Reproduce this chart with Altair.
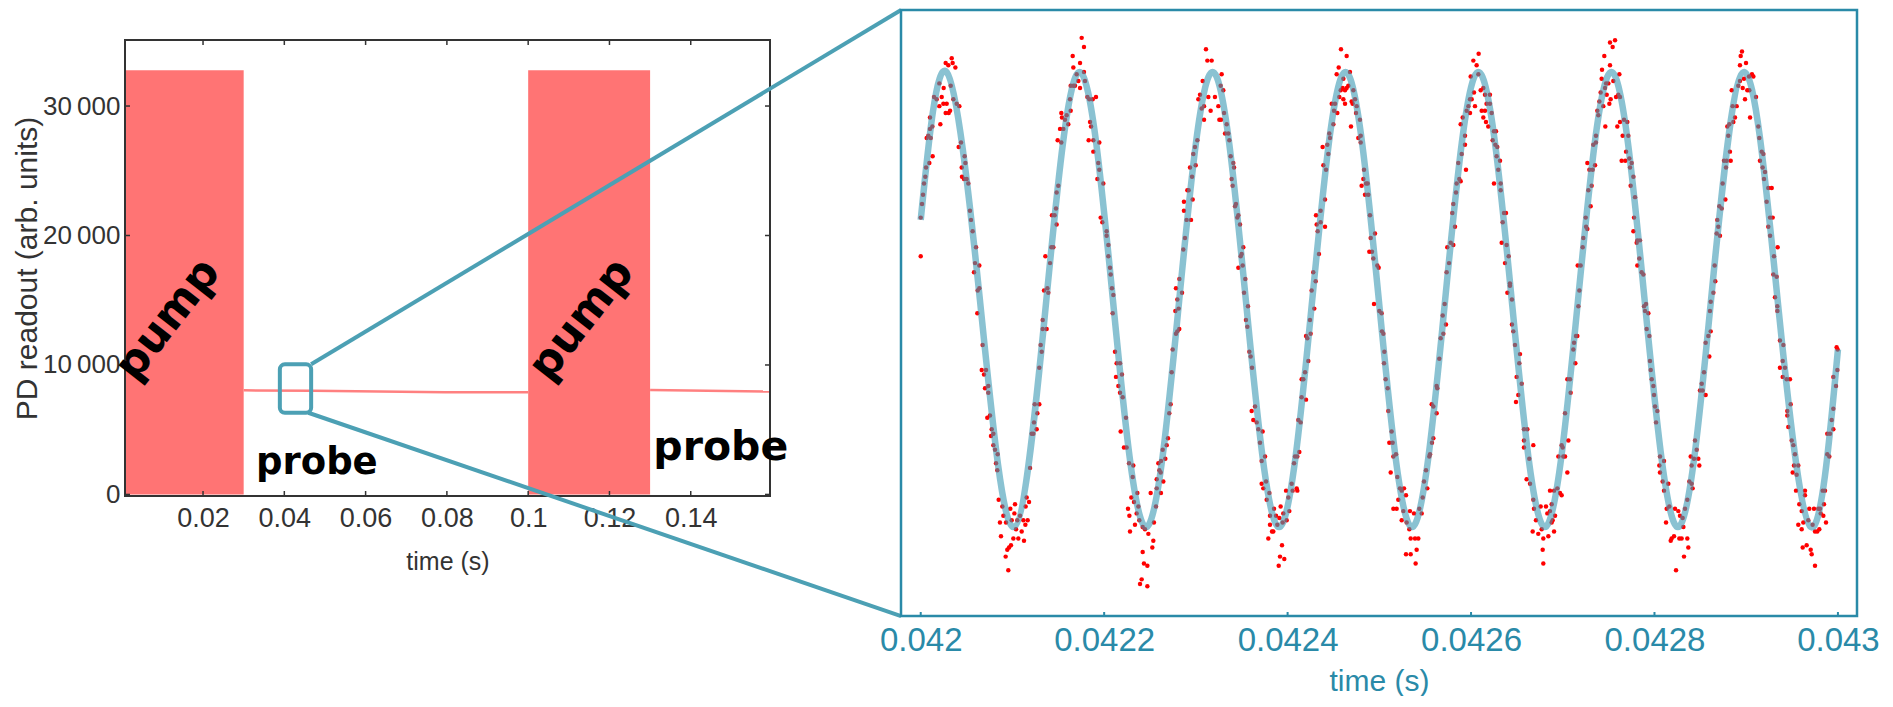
import altair as alt
import pandas as pd

# ---------------- left panel: full photodiode trace ----------------
pump_start = [0.0008, 0.100]
pump_end = [0.030, 0.130]
pump_level = [32768, 32768]

probe_t = [0.030, 0.047, 0.0795, 0.100, 0.130, 0.1595]
probe_v = [8040, 8000, 7890, 7890, 8070, 7950]
probe_seg = ["a", "a", "a", "a", "b", "b"]

left_xticks = [0.02, 0.04, 0.06, 0.08, 0.10, 0.12, 0.14]
left_yticks = [0, 10000, 20000, 30000]

pump_label_t = [0.0114, 0.1132]
pump_label_v = [13500, 13500]
probe_label_t = [0.0480, 0.1474]
probe_label_v = [2410, 3560]

zoom_box_t = [0.0389, 0.0466]
zoom_box_v = [6310, 10050]

# connector lines: zoom-box corner -> corner of the zoomed panel (left-panel units)
conn_t0 = [0.0466, 0.0459]
conn_v0 = [10050, 6310]
conn_t1 = [0.19175, 0.19175]
conn_v1 = [37420, -9390]

# ---------------- right panel: zoom 0.042 s .. 0.043 s ----------------
right_xticks = [0.042, 0.0422, 0.0424, 0.0426, 0.0428, 0.043]

# fitted sinusoid: (time offset from 0.042 s in microseconds, normalised readout)
curve_us = [0, 28.3, 64.5, 100.8, 137.0, 173.2, 209.5, 245.7, 281.9, 318.2, 354.4,
            390.7, 426.9, 463.1, 499.4, 535.6, 571.8, 608.0, 644.3, 680.5, 716.7,
            753.0, 789.2, 825.5, 861.7, 897.9, 934.2, 970.4, 1000]
curve_v = [0.35, 1, 0, -1, 0, 1, 0, -1, 0, 1, 0, -1, 0, 1, 0, -1, 0, 1, 0, -1, 0,
           1, 0, -1, 0, 1, 0, -1, -0.22]

# measured samples (microseconds from 0.042 s, normalised readout), per half cycle
peak1 = [(0.0,0.36),(0.0,0.19),(1.4,0.42),(2.5,0.46),(3.6,0.51),(5.0,0.54),(5.8,0.58),(6.5,0.71),(8.3,0.72),(9.4,0.60),(10.9,0.71),(10.1,0.75),(13.0,0.63),(12.7,0.76),(10.1,0.80),(14.5,0.89),(17.4,0.88),(20.3,0.85),(21.4,0.77),(22.9,0.89),(20.3,0.95),(25.0,0.93),(24.7,0.86),(28.3,0.86),(27.2,0.82),(30.5,0.82),(32.0,0.83),(27.2,1.04),(30.1,1.03),(33.8,1.06),(34.8,1.04),(37.8,1.02),(32.7,0.94),(35.6,0.88),(39.2,0.86),(42.1,0.85),(41.4,0.67),(43.9,0.69),(47.9,0.63),(48.7,0.60),(44.7,0.58),(45.0,0.54),(47.2,0.53),(50.1,0.53),(51.9,0.51),(53.7,0.39),(54.8,0.35),(56.6,0.30),(60.3,0.23),(63.9,0.15),(59.2,0.16),(58.1,0.12),(63.9,0.05),(62.1,0.04)]
trough1 = [(61.7,-0.06),(67.5,-0.20),(66.5,-0.31),(69.0,-0.33),(71.2,-0.31),(70.1,-0.39),(73.7,-0.38),(73.7,-0.41),(72.6,-0.52),(75.5,-0.51),(77.4,-0.57),(76.6,-0.60),(79.2,-0.59),(79.2,-0.64),(81.0,-0.66),(83.9,-0.68),(82.1,-0.72),(83.5,-0.75),(85.0,-0.88),(89.0,-0.91),(86.4,-0.98),(90.1,-0.95),(93.0,-0.98),(87.5,-1.04),(97.7,-0.92),(102.8,-0.90),(102.1,-0.94),(99.2,-0.97),(105.3,-0.97),(108.3,-0.95),(103.9,-1.01),(101.0,-1.05),(106.4,-1.05),(98.4,-1.08),(96.3,-1.09),(94.4,-1.10),(92.6,-1.13),(95.5,-1.19),(110.1,-1.02),(112.6,-1.06),(111.9,-0.97),(114.1,-0.99),(116.6,-0.97),(114.4,-0.91),(118.1,-0.89),(115.5,-0.87),(119.2,-0.74),(121.0,-0.59),(122.8,-0.59),(126.4,-0.57),(123.5,-0.54),(127.2,-0.50),(124.3,-0.46),(129.3,-0.46),(129.3,-0.30),(131.9,-0.23),(130.8,-0.20),(133.0,-0.13),(137.3,-0.13),(133.0,-0.09)]
peak2 = [(134.4,0.04),(138.1,0.05),(139.1,0.03),(135.9,0.19),(141.0,0.16),(142.4,0.23),(144.6,0.23),(148.2,0.33),(143.1,0.37),(146.0,0.37),(147.5,0.40),(148.2,0.47),(150.0,0.50),(149.3,0.70),(153.3,0.69),(151.9,0.75),(155.5,0.75),(154.0,0.80),(157.3,0.79),(153.3,0.82),(159.1,0.81),(160.9,0.77),(163.5,0.83),(162.8,0.88),(163.5,0.94),(166.4,0.94),(168.2,0.94),(165.7,1.07),(166.4,1.02),(170.0,0.99),(173.7,1.04),(175.5,1.15),(178.0,1.11),(178.0,1.00),(171.9,0.96),(173.7,0.93),(179.1,0.96),(181.7,0.89),(183.8,0.88),(187.5,0.88),(191.1,0.89),(184.6,0.78),(185.7,0.76),(183.1,0.70),(188.2,0.70),(194.7,0.69),(188.2,0.65),(193.6,0.60),(194.7,0.57),(192.6,0.53),(199.1,0.51),(196.2,0.36),(198.0,0.34),(202.7,0.30),(202.7,0.28),(204.6,0.24),(204.6,0.19),(206.4,0.14),(207.1,0.11),(210.0,0.02),(208.5,0.05)]
trough2 = [(209.3,-0.06),(211.8,-0.23),(213.6,-0.28),(217.3,-0.28),(212.9,-0.34),(219.4,-0.33),(215.5,-0.38),(217.3,-0.41),(220.2,-0.43),(223.8,-0.52),(218.0,-0.58),(221.6,-0.65),(224.5,-0.65),(227.1,-0.72),(231.8,-0.73),(231.1,-0.78),(236.2,-0.85),(229.6,-0.87),(232.5,-0.89),(237.3,-0.91),(226.0,-0.92),(227.5,-0.95),(235.4,-0.94),(238.3,-0.97),(233.6,-0.99),(228.2,-1.02),(242.0,-1.00),(244.5,-1.01),(248.2,-1.03),(253.6,-1.06),(242.0,-1.11),(243.4,-1.16),(247.1,-1.17),(240.9,-1.23),(239.1,-1.25),(247.1,-1.26),(252.5,-1.09),(250.7,-0.85),(254.3,-0.98),(256.5,-0.91),(257.3,-0.83),(261.9,-0.85),(257.3,-0.79),(260.2,-0.75),(264.5,-0.80),(261.6,-0.76),(259.1,-0.72),(262.0,-0.71),(266.7,-0.70),(263.8,-0.66),(268.2,-0.64),(269.6,-0.61),(271.0,-0.50),(272.5,-0.46),(273.6,-0.32),(274.7,-0.22),(278.3,-0.15),(281.9,-0.13),(279.8,-0.14),(277.6,-0.05)]
peak3 = [(278.3,0.05),(282.0,0.09),(284.9,0.03),(281.2,-0.04),(279.8,0.00),(286.3,0.22),(288.1,0.27),(287.0,0.39),(287.0,0.43),(289.9,0.35),(294.7,0.35),(290.7,0.48),(292.1,0.48),(296.5,0.44),(293.6,0.58),(295.8,0.54),(299.8,0.59),(297.2,0.64),(299.0,0.67),(301.6,0.70),(302.7,0.88),(304.5,0.90),(307.4,0.96),(308.9,0.85),(308.9,0.79),(306.3,0.84),(311.0,1.10),(312.5,1.05),(317.2,1.05),(313.6,0.89),(316.1,0.83),(320.8,0.89),(324.5,0.85),(325.6,0.79),(328.1,0.99),(327.0,0.94),(329.9,0.92),(330.7,0.82),(327.4,0.79),(333.6,0.77),(331.8,0.73),(335.4,0.73),(336.5,0.70),(337.9,0.63),(340.8,0.60),(341.6,0.58),(339.0,0.53),(340.1,0.50),(343.7,0.42),(342.7,0.41),(346.3,0.37),(345.2,0.36),(348.1,0.33),(351.7,0.23),(349.9,0.20),(348.8,0.19),(346.3,0.14),(351.0,0.15),(353.9,0.09),(352.5,0.03),(356.8,-0.03)]
trough3 = [(354.6,-0.09),(356.1,-0.12),(358.3,-0.23),(359.7,-0.25),(361.2,-0.30),(360.8,-0.49),(364.5,-0.47),(362.6,-0.53),(366.3,-0.54),(368.1,-0.57),(372.8,-0.58),(369.9,-0.63),(375.4,-0.69),(371.7,-0.71),(371.7,-0.81),(376.5,-0.80),(373.5,-0.83),(380.1,-0.85),(377.2,-0.88),(385.2,-0.92),(380.8,-0.95),(387.4,-0.95),(391.0,-0.96),(380.8,-0.99),(384.4,-1.02),(383.0,-1.02),(379.0,-1.05),(388.8,-0.99),(392.4,-0.91),(395.3,-0.94),(394.6,-0.98),(399.0,-0.97),(393.9,-1.08),(391.7,-1.13),(396.4,-1.14),(390.3,-1.17),(398.3,-0.84),(400.8,-0.87),(401.9,-0.93),(404.4,-0.81),(405.5,-0.84),(409.9,-0.83),(410.6,-0.84),(407.0,-0.72),(410.6,-0.69),(408.1,-0.69),(412.8,-0.67),(411.7,-0.53),(414.2,-0.54),(415.3,-0.43),(420.1,-0.44),(415.3,-0.35),(417.2,-0.35),(419.0,-0.32),(422.6,-0.27),(421.5,-0.17),(420.1,-0.16),(425.1,-0.15),(424.4,-0.09)]
peak4 = [(429.1,-0.04),(426.2,0.04),(430.6,0.08),(428.0,0.12),(434.2,0.20),(432.8,0.30),(431.7,0.33),(436.0,0.34),(440.8,0.32),(431.0,0.37),(436.0,0.39),(440.8,0.44),(439.0,0.59),(441.9,0.57),(444.4,0.64),(438.2,0.67),(443.3,0.68),(446.2,0.71),(445.5,0.73),(449.9,0.77),(454.2,0.82),(450.6,0.83),(448.1,0.86),(451.7,0.86),(456.4,0.89),(457.9,0.92),(453.5,0.99),(455.7,1.02),(458.2,1.10),(464.4,1.07),(468.0,1.00),(460.8,0.97),(460.0,0.93),(464.4,0.93),(462.6,0.92),(466.2,0.94),(460.8,0.88),(462.6,0.86),(470.9,0.86),(469.8,0.87),(473.5,0.88),(471.7,0.92),(475.3,0.85),(474.6,0.82),(469.1,0.76),(478.9,0.79),(477.1,0.71),(479.7,0.72),(479.7,0.69),(483.3,0.57),(480.7,0.50),(482.6,0.53),(485.5,0.51),(487.3,0.51),(484.4,0.46),(488.0,0.46),(489.8,0.37),(495.3,0.29),(490.6,0.27),(489.1,0.21),(492.0,0.21),(493.5,0.18),(497.8,0.15),(499.3,0.14),(494.2,-0.02)]
trough4 = [(500.0,-0.05),(502.5,-0.06),(502.9,-0.14),(504.4,-0.15),(505.5,-0.23),(505.1,-0.28),(506.9,-0.35),(509.1,-0.39),(509.8,-0.49),(510.9,-0.63),(514.5,-0.63),(513.4,-0.58),(515.3,-0.69),(518.2,-0.68),(512.4,-0.76),(519.6,-0.78),(522.5,-0.83),(526.9,-0.83),(524.4,-0.84),(529.1,-0.86),(520.7,-0.88),(515.3,-0.92),(518.9,-0.92),(526.2,-0.93),(524.4,-0.97),(529.8,-0.98),(533.4,-0.93),(537.8,-0.94),(532.7,-1.01),(534.2,-1.05),(538.9,-1.05),(542.5,-1.05),(529.1,-1.12),(534.2,-1.12),(540.7,-1.10),(539.6,-1.16),(543.6,-0.92),(546.2,-0.94),(547.3,-0.87),(552.3,-0.83),(548.7,-0.80),(550.9,-0.75),(554.5,-0.69),(555.3,-0.68),(557.4,-0.63),(558.9,-0.61),(562.5,-0.50),(558.9,-0.47),(557.1,-0.46),(563.2,-0.39),(562.5,-0.38),(565.4,-0.26),(566.9,-0.17),(569.8,-0.15),(572.7,-0.11),(569.1,-0.07)]
peak5 = [(571.2,-0.02),(573.4,0.12),(576.0,0.16),(574.1,0.23),(577.8,0.25),(580.7,0.24),(582.5,0.32),(579.6,0.38),(580.7,0.42),(583.6,0.47),(584.3,0.51),(587.2,0.53),(588.7,0.52),(586.1,0.60),(594.5,0.57),(589.8,0.64),(593.4,0.68),(593.4,0.72),(590.9,0.80),(588.7,0.77),(595.2,0.83),(598.9,0.82),(597.1,0.85),(600.7,0.88),(598.9,0.88),(604.3,0.85),(603.2,0.91),(599.6,0.98),(602.5,1.05),(606.1,1.03),(608.3,1.08),(608.0,0.99),(613.4,0.93),(610.5,0.92),(615.2,0.90),(620.6,0.90),(616.9,0.86),(611.6,0.83),(615.2,0.83),(613.4,0.80),(616.3,0.78),(618.8,0.76),(620.6,0.86),(622.5,0.82),(625.0,0.74),(627.2,0.74),(623.6,0.70),(626.5,0.68),(628.6,0.67),(627.9,0.63),(631.6,0.61),(629.7,0.57),(625.0,0.51),(632.3,0.51),(632.3,0.48),(635.9,0.38),(638.1,0.38),(634.5,0.34),(633.4,0.25),(638.8,0.24),(641.0,0.19),(637.0,0.16),(642.4,0.07),(642.4,0.06),(639.6,0.03),(644.6,0.00)]
trough5 = [(644.6,-0.11),(646.1,-0.14),(647.9,-0.20),(653.4,-0.24),(652.6,-0.28),(649.7,-0.34),(655.2,-0.37),(651.5,-0.42),(649.0,-0.45),(657.7,-0.57),(661.4,-0.57),(657.7,-0.62),(667.9,-0.64),(657.7,-0.65),(663.5,-0.70),(660.6,-0.79),(664.3,-0.81),(667.9,-0.88),(668.6,-0.92),(670.8,-0.97),(667.2,-1.02),(673.3,-1.03),(675.9,-0.91),(677.0,-1.01),(678.8,-1.05),(678.1,-1.10),(678.8,-1.16),(681.7,-0.91),(683.2,-0.94),(684.3,-1.04),(686.1,-0.93),(687.9,-0.98),(690.5,-1.02),(689.0,-0.97),(691.6,-0.95),(687.9,-0.90),(690.5,-0.84),(686.1,-0.84),(694.1,-0.83),(697.0,-0.85),(698.8,-0.86),(705.0,-0.76),(695.2,-0.69),(700.6,-0.69),(702.5,-0.69),(699.9,-0.65),(706.1,-0.62),(698.8,-0.64),(702.5,-0.50),(708.6,-0.41),(705.0,-0.35),(707.9,-0.35),(713.7,-0.28),(711.5,-0.22),(712.3,-0.19),(714.4,-0.16),(715.9,-0.16)]
peak6 = [(717.0,-0.03),(718.1,0.04),(716.3,0.15),(719.5,0.15),(721.7,0.23),(722.4,0.27),(725.4,0.32),(726.8,0.31),(725.0,0.36),(730.4,0.41),(727.9,0.48),(731.5,0.50),(729.0,0.57),(732.6,0.57),(726.8,0.60),(735.2,0.59),(733.3,0.68),(736.2,0.69),(736.2,0.72),(738.8,0.81),(737.7,0.83),(739.9,0.87),(744.2,0.85),(741.3,0.91),(742.4,0.97),(747.9,0.90),(750.8,0.86),(746.4,0.76),(747.2,0.95),(746.1,0.93),(749.7,0.95),(752.2,0.88),(742.8,1.01),(751.5,1.03),(745.3,1.07),(751.5,1.13),(754.4,1.11),(757.0,1.14),(755.1,0.96),(761.7,0.99),(758.1,0.89),(760.6,0.90),(762.4,0.89),(759.5,0.76),(762.4,0.78),(765.3,0.72),(766.8,0.79),(770.4,0.78),(769.0,0.65),(764.2,0.61),(768.2,0.61),(771.5,0.72),(772.6,0.62),(775.1,0.60),(773.3,0.58),(777.0,0.54),(774.0,0.50),(778.8,0.45),(777.7,0.36),(777.0,0.30),(781.3,0.26),(784.2,0.26),(780.6,0.25),(783.5,0.18),(781.3,0.15),(786.0,0.12),(787.9,0.11),(790.8,-0.02),(788.6,-0.03)]
trough6 = [(789.7,-0.05),(793.3,-0.06),(791.5,-0.13),(794.4,-0.16),(795.1,-0.27),(795.9,-0.31),(797.0,-0.35),(798.8,-0.38),(799.5,-0.42),(800.6,-0.47),(803.1,-0.49),(801.7,-0.54),(806.0,-0.69),(810.4,-0.71),(805.3,-0.73),(806.0,-0.76),(808.9,-0.80),(815.1,-0.81),(810.4,-0.84),(813.3,-0.92),(816.2,-0.91),(812.6,-0.98),(822.4,-0.92),(826.0,-0.93),(827.8,-0.95),(830.7,-0.96),(833.3,-0.92),(818.7,-1.05),(821.3,-1.04),(817.7,-1.06),(827.1,-1.05),(829.6,-1.05),(835.8,-1.05),(831.5,-1.00),(823.5,-1.19),(832.2,-1.13),(836.9,-1.09),(835.8,-0.88),(838.0,-0.80),(840.5,-0.81),(841.6,-0.83),(840.5,-0.73),(839.5,-0.69),(843.1,-0.70),(848.9,-0.73),(846.0,-0.66),(844.2,-0.62),(847.8,-0.70),(849.6,-0.40),(852.5,-0.40),(851.5,-0.37),(854.0,-0.32),(855.8,-0.42),(855.8,-0.19),(858.7,-0.16),(859.8,-0.25),(861.3,-0.14),(860.5,-0.05)]
peak7 = [(861.3,-0.01),(864.2,0.03),(866.3,0.08),(865.6,0.15),(867.8,0.29),(871.4,0.28),(869.6,0.32),(868.5,0.35),(870.7,0.41),(873.3,0.40),(877.3,0.44),(874.3,0.51),(878.0,0.58),(875.8,0.61),(878.7,0.61),(883.1,0.61),(882.3,0.65),(880.5,0.72),(879.4,0.76),(881.6,0.77),(886.0,0.78),(887.8,0.80),(885.2,0.85),(889.6,0.85),(884.2,0.92),(891.4,0.94),(893.2,0.96),(897.6,0.97),(896.2,0.93),(901.2,0.92),(903.4,0.92),(898.7,0.88),(904.2,0.80),(910.7,0.89),(907.8,0.98),(906.3,0.99),(903.1,0.98),(893.2,1.03),(899.8,1.04),(894.0,1.07),(895.4,1.09),(913.2,0.76),(914.3,0.71),(916.9,0.65),(918.7,0.64),(915.0,0.61),(917.9,0.58),(920.5,0.56),(919.4,0.53),(924.1,0.49),(927.8,0.49),(922.3,0.43),(926.0,0.36),(924.1,0.32),(928.9,0.36),(926.0,0.28),(934.3,0.23),(930.3,0.19),(929.6,0.11),(933.2,0.10),(931.4,0.01),(933.9,-0.03)]
trough7 = [(934.0,-0.05),(936.8,-0.18),(940.5,-0.20),(939.8,-0.27),(936.8,-0.30),(942.3,-0.30),(939.8,-0.34),(944.1,-0.35),(947.7,-0.35),(948.5,-0.46),(944.8,-0.49),(944.8,-0.51),(945.9,-0.56),(949.6,-0.62),(951.4,-0.64),(953.2,-0.68),(952.1,-0.73),(956.8,-0.73),(950.7,-0.76),(955.0,-0.77),(954.3,-0.84),(964.1,-0.84),(964.1,-0.86),(957.9,-0.90),(960.5,-0.93),(956.8,-0.99),(962.3,-0.98),(960.5,-1.01),(968.8,-0.92),(973.9,-0.92),(967.7,-0.97),(972.4,-0.99),(978.6,-0.92),(981.2,-0.94),(984.1,-0.95),(987.0,-0.98),(975.0,-1.02),(977.5,-1.02),(979.7,-1.01),(961.6,-1.09),(965.9,-1.08),(970.3,-1.10),(971.4,-1.12),(975.0,-1.17),(980.5,-0.92),(983.4,-0.84),(985.9,-0.84),(984.8,-0.90),(988.4,-0.68),(990.6,-0.69),(988.4,-0.59),(991.4,-0.59),(995.0,-0.57),(993.2,-0.53),(995.0,-0.48),(997.9,-0.38),(995.0,-0.34),(999.4,-0.31),(998.6,-0.21),(999.7,-0.22)]

# ---------------- styling constants ----------------
AXF = "Liberation Sans, Arial, DejaVu Sans"
TXF = "DejaVu Sans"
GRAY = "#333333"
TEAL = "#2a8aa8"
TEAL_LINK = "#4ca0b4"
PUMP_RED = "#ff7474"

XL_DOM, XL_RNG = [0.0008, 0.1595], [0, 645]
YL_DOM, YL_RNG = [-120, 35100], [486, 30]
XR_DOM, XR_RNG = [0.0419785, 0.0430208], [776, 1732]
YR_DOM, YR_RNG = [-1.391, 1.2725], [606, 0]


def sc(dom, rng):
    return alt.Scale(domain=dom, range=rng, nice=False, zero=False)


ax_lx = alt.Axis(values=left_xticks, format="~g", title="time (s)", orient="bottom",
                 offset=-120, ticks=False, domain=False, grid=False,
                 labelFont=AXF, labelFontSize=27, labelColor=GRAY, labelPadding=9,
                 titleFont=AXF, titleFontSize=25, titleColor=GRAY,
                 titleFontWeight="normal", titleBaseline="middle", titleY=65)
ax_ly = alt.Axis(values=left_yticks, title="PD readout (arb. units)", orient="left",
                 labelExpr="replace(format(datum.value, ','), ',', '\u2009')",
                 ticks=False, domain=False, grid=False,
                 labelFont=AXF, labelFontSize=26, labelColor=GRAY, labelPadding=5,
                 titleFont=AXF, titleFontSize=30, titleColor=GRAY,
                 titleFontWeight="normal", titleBaseline="middle", titleX=-98)
ax_rx = alt.Axis(values=right_xticks, format="~g", title="time (s)", orient="bottom",
                 ticks=False, domain=False, grid=False,
                 labelFont=AXF, labelFontSize=33, labelColor=TEAL, labelPadding=8,
                 titleFont=AXF, titleFontSize=30, titleColor=TEAL,
                 titleFontWeight="normal", titleBaseline="middle", titleY=65)


def LX(f, axis=None):
    return alt.X(f, type="quantitative", scale=sc(XL_DOM, XL_RNG), axis=axis)


def LY(f, axis=None):
    return alt.Y(f, type="quantitative", scale=sc(YL_DOM, YL_RNG), axis=axis)


def RX(f, axis=None):
    return alt.X(f, type="quantitative", scale=sc(XR_DOM, XR_RNG), axis=axis)


def RY(f):
    return alt.Y(f, type="quantitative", scale=sc(YR_DOM, YR_RNG), axis=None)


# ---------------- left layers ----------------
xl0, xl1 = XL_DOM
yl0, yl1 = YL_DOM

pumps = pd.DataFrame({"t0": pump_start, "t1": pump_end, "v0": [0, 0], "v1": pump_level})
pump_layer = alt.Chart(pumps).mark_rect(color=PUMP_RED, opacity=1).encode(
    x=LX("t0"), x2="t1", y=LY("v0"), y2="v1")

probe = pd.DataFrame({"t": probe_t, "v": probe_v, "seg": probe_seg})
probe_layer = alt.Chart(probe).mark_line(color="#ff8080", strokeWidth=2.5).encode(
    x=LX("t"), y=LY("v"), detail="seg:N")

frame_l = pd.DataFrame({"a": [xl0], "b": [xl1], "c": [yl0], "d": [yl1]})
frame_l_layer = alt.Chart(frame_l).mark_rect(fillOpacity=0, stroke=GRAY, strokeWidth=2).encode(
    x=LX("a", axis=ax_lx), x2="b", y=LY("c", axis=ax_ly), y2="d")

tick_style = dict(filled=False, color=GRAY, strokeWidth=1.5, size=100, opacity=1)
xt = pd.DataFrame({"t": left_xticks, "lo": [yl0] * len(left_xticks), "hi": [yl1] * len(left_xticks)})
yt = pd.DataFrame({"v": left_yticks, "lo": [xl0] * len(left_yticks), "hi": [xl1] * len(left_yticks)})
ticks_bottom = alt.Chart(xt).mark_point(shape="M0,0V-1", **tick_style).encode(x=LX("t"), y=LY("lo"))
ticks_top = alt.Chart(xt).mark_point(shape="M0,0V1", **tick_style).encode(x=LX("t"), y=LY("hi"))
ticks_left = alt.Chart(yt).mark_point(shape="M0,0H1", **tick_style).encode(x=LX("lo"), y=LY("v"))
ticks_right = alt.Chart(yt).mark_point(shape="M0,0H-1", **tick_style).encode(x=LX("hi"), y=LY("v"))

pump_lbl = pd.DataFrame({"t": pump_label_t, "v": pump_label_v, "txt": ["pump", "pump"]})
pump_text = alt.Chart(pump_lbl).mark_text(font=TXF, fontWeight="bold", fontSize=44, angle=308,
                                          color="black", align="center", baseline="middle").encode(
    x=LX("t"), y=LY("v"), text="txt:N")
probe_lbl = pd.DataFrame({"t": probe_label_t, "v": probe_label_v, "txt": ["probe", "probe"],
                          "fs": [37, 41]})
probe_text = alt.Chart(probe_lbl).mark_text(font=TXF, fontWeight="bold",
                                            color="black", align="center", baseline="middle").encode(
    x=LX("t"), y=LY("v"), text="txt:N", size=alt.Size("fs:Q", scale=None))

box = pd.DataFrame({"a": [zoom_box_t[0]], "b": [zoom_box_t[1]], "c": [zoom_box_v[0]], "d": [zoom_box_v[1]]})
box_layer = alt.Chart(box).mark_rect(fillOpacity=0, stroke=TEAL_LINK, strokeWidth=4, cornerRadius=5).encode(
    x=LX("a"), x2="b", y=LY("c"), y2="d")

conn = pd.DataFrame({"t0": conn_t0, "v0": conn_v0, "t1": conn_t1, "v1": conn_v1})
conn_layer = alt.Chart(conn).mark_rule(color=TEAL_LINK, strokeWidth=4).encode(
    x=LX("t0"), y=LY("v0"), x2="t1", y2="v1")

# ---------------- right layers ----------------
groups = [peak1, trough1, peak2, trough2, peak3, trough3, peak4, trough4,
          peak5, trough5, peak6, trough6, peak7, trough7]
dots = pd.DataFrame([p for g in groups for p in g], columns=["us", "v"])
dots["t"] = 0.042 + dots["us"] * 1e-6
curve = pd.DataFrame({"us": curve_us, "v": curve_v})
curve["t"] = 0.042 + curve["us"] * 1e-6

dot_layer = alt.Chart(dots).mark_circle(color="#ff0000", size=20, opacity=1).encode(
    x=RX("t"), y=RY("v"))
curve_layer = alt.Chart(curve).mark_line(color="#3c9ab4", strokeWidth=6.5, opacity=0.6,
                                         interpolate="natural").encode(
    x=RX("t"), y=RY("v"), order="us:Q")

xr0, xr1 = XR_DOM
yr0, yr1 = YR_DOM
frame_r = pd.DataFrame({"a": [xr0], "b": [xr1], "c": [yr0], "d": [yr1]})
frame_r_layer = alt.Chart(frame_r).mark_rect(fillOpacity=0, stroke=TEAL, strokeWidth=2.5).encode(
    x=RX("a", axis=ax_rx), x2="b", y=RY("c"), y2="d")
rt = pd.DataFrame({"t": right_xticks, "lo": [yr0] * len(right_xticks)})
ticks_r = alt.Chart(rt).mark_point(shape="M0,0V-1", filled=False, color=TEAL, strokeWidth=2,
                                   size=64, opacity=1).encode(x=RX("t"), y=RY("lo"))

layers = [pump_layer, probe_layer, frame_l_layer, ticks_bottom, ticks_top, ticks_left,
          ticks_right, pump_text, probe_text, box_layer, conn_layer,
          dot_layer, curve_layer, frame_r_layer, ticks_r]

chart = alt.layer(*layers).resolve_scale(x="independent", y="independent").properties(
    width=1732, height=606,
    autosize=alt.AutoSizeParams(type="none"),
    padding={"left": 117, "top": 2, "right": 28, "bottom": 80},
).configure_view(strokeWidth=0).configure_axis(grid=False)

chart.save("out.html", embed_options={"renderer": "svg", "actions": False})
